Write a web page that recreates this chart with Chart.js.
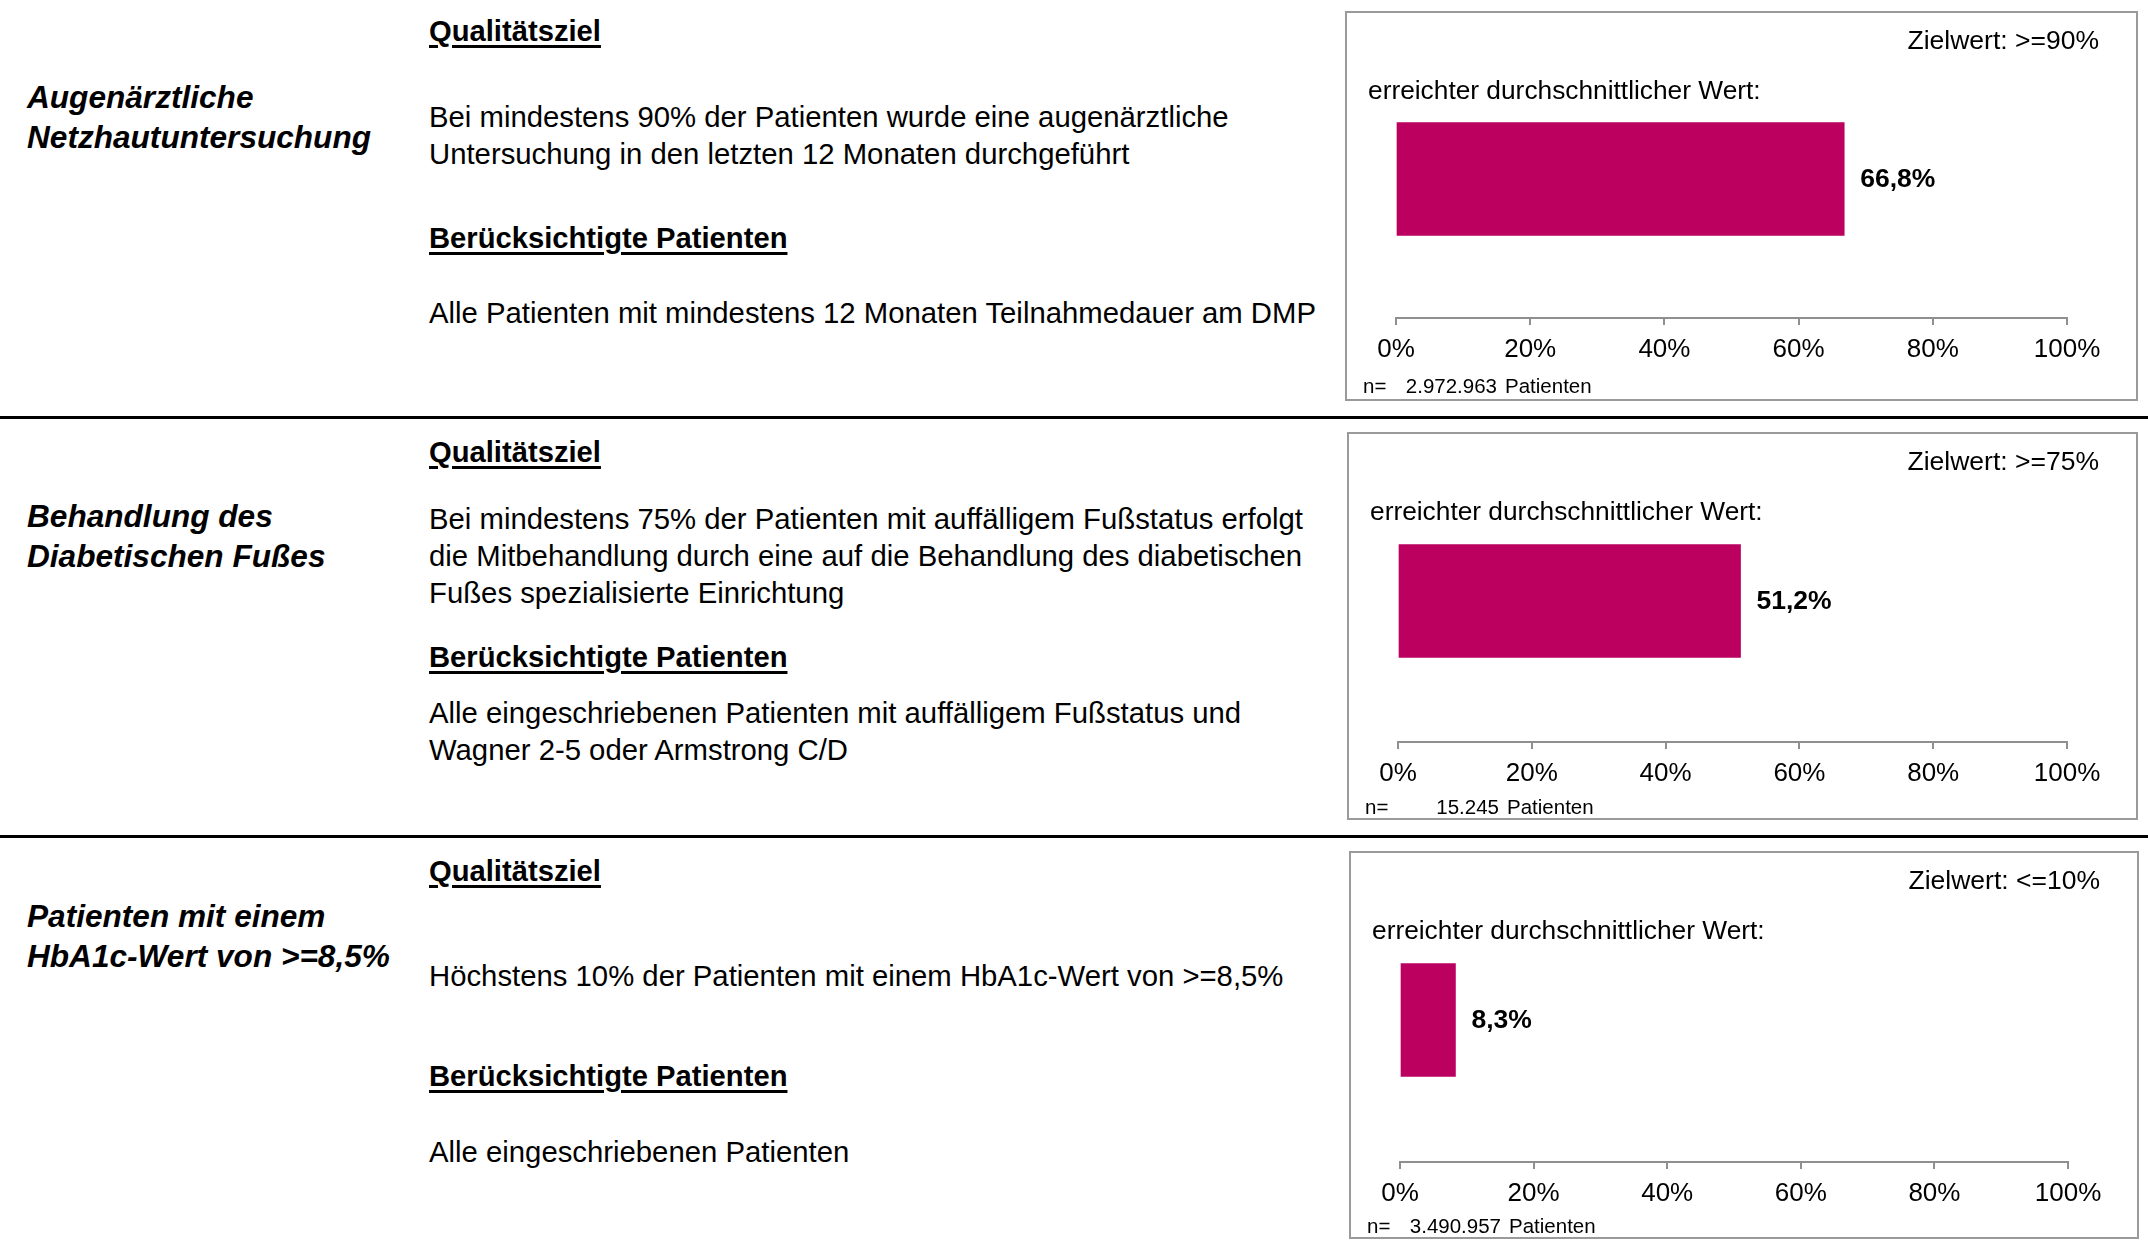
<!DOCTYPE html>
<html lang="de">
<head>
<meta charset="utf-8">
<title>DMP Qualitätsziele</title>
<script src="https://cdn.jsdelivr.net/npm/chart.js@4.4.1/dist/chart.umd.min.js"></script>
<style>
  html, body { margin: 0; padding: 0; background: #fff; }
  body { width: 2148px; height: 1255px; position: relative; overflow: hidden;
         font-family: 'Liberation Sans', Arial, sans-serif; color: #000; }
  .abs { position: absolute; white-space: nowrap; }
  .title { font-size: 31.6px; font-weight: bold; font-style: italic; line-height: 40px; }
  .head { font-size: 29.2px; font-weight: bold; line-height: 36px;
          text-decoration: underline; text-decoration-thickness: 3px; text-underline-offset: 4px; }
  .body { font-size: 29.3px; line-height: 37px; }
  .sep { position: absolute; left: 0; width: 2148px; height: 3px; background: #000; }
  .panel { position: absolute; box-sizing: border-box; border: 2px solid #9a9a9a; background: #fff; }
  .panel .chartBox { position: absolute; left: 0; top: 0; right: 0; bottom: 0; }
  .ziel { font-size: 26.5px; line-height: 30px; right: 37px; top: 12px; }
  .reached { font-size: 26.3px; line-height: 30px; left: 21px; top: 62px; }
  .nrow { font-size: 20.5px; line-height: 24px; top: 361px; }
</style>
</head>
<body>
<div class="sep" style="top:416px"></div>
<div class="sep" style="top:835px"></div>
<script>
// Kennzahlen je Qualitätsziel
const indicatorTitles = [
  ['Augenärztliche', 'Netzhautuntersuchung'],
  ['Behandlung des', 'Diabetischen Fußes'],
  ['Patienten mit einem', 'HbA1c-Wert von >=8,5%']
];
const goalTexts = [
  ['Bei mindestens 90% der Patienten wurde eine augenärztliche', 'Untersuchung in den letzten 12 Monaten durchgeführt'],
  ['Bei mindestens 75% der Patienten mit auffälligem Fußstatus erfolgt', 'die Mitbehandlung durch eine auf die Behandlung des diabetischen', 'Fußes spezialisierte Einrichtung'],
  ['Höchstens 10% der Patienten mit einem HbA1c-Wert von >=8,5%']
];
const patientTexts = [
  ['Alle Patienten mit mindestens 12 Monaten Teilnahmedauer am DMP'],
  ['Alle eingeschriebenen Patienten mit auffälligem Fußstatus und', 'Wagner 2-5 oder Armstrong C/D'],
  ['Alle eingeschriebenen Patienten']
];
const targetLabels = ['>=90%', '>=75%', '<=10%'];
const achievedValues = [66.8, 51.2, 8.3];
const patientCounts = ['2.972.963', '15.245', '3.490.957'];
const axisTicks = [0, 20, 40, 60, 80, 100];

// Layout (Pixel)
const sectionTops = [0, 420, 840];
const titleCenters = [97, 96, 76];
const goalHeadCenters = [31, 32, 31];
const goalBodyCenters = [116, 98, 135];
const patHeadCenters = [238, 237, 236];
const patBodyCenters = [312, 292, 311];
const panelBoxes = [
  { left: 1345, top: 11, width: 793, height: 390, axisY: 305, barY: 166 },
  { left: 1347, top: 432, width: 791, height: 388, axisY: 308, barY: 167 },
  { left: 1349, top: 851, width: 790, height: 388, axisY: 309, barY: 167 }
];

const barColor = '#BB0060';
const axisColor = '#8f8f8f';
Chart.defaults.font.family = "'Liberation Sans', Arial, sans-serif";
Chart.defaults.color = '#000';

function addDiv(parent, cls, html, styles) {
  const d = document.createElement('div');
  d.className = cls;
  d.innerHTML = html;
  Object.assign(d.style, styles || {});
  parent.appendChild(d);
  return d;
}

const valueLabelPlugin = {
  id: 'valueLabel',
  afterDatasetsDraw(chart) {
    const ctx = chart.ctx;
    const meta = chart.getDatasetMeta(0);
    ctx.save();
    ctx.font = "bold 26.5px 'Liberation Sans', Arial, sans-serif";
    ctx.fillStyle = '#000';
    ctx.textAlign = 'left';
    ctx.textBaseline = 'middle';
    meta.data.forEach((bar, i) => {
      const v = chart.data.datasets[0].data[i];
      ctx.fillText(v.toFixed(1).replace('.', ',') + '%', bar.x + 16, bar.y + 1);
    });
    ctx.restore();
  }
};

indicatorTitles.forEach((title, i) => {
  const top = sectionTops[i];
  addDiv(document.body, 'abs title', title.join('<br>'), { left: '27px', top: (top + titleCenters[i] - 20) + 'px' });
  addDiv(document.body, 'abs head', 'Qualitätsziel', { left: '429px', top: (top + goalHeadCenters[i] - 18) + 'px' });
  addDiv(document.body, 'abs body', goalTexts[i].join('<br>'), { left: '429px', top: (top + goalBodyCenters[i] - 18.5) + 'px' });
  addDiv(document.body, 'abs head', 'Berücksichtigte Patienten', { left: '429px', top: (top + patHeadCenters[i] - 18) + 'px' });
  addDiv(document.body, 'abs body', patientTexts[i].join('<br>'), { left: '429px', top: (top + patBodyCenters[i] - 18.5) + 'px' });

  const box = panelBoxes[i];
  const innerH = box.height - 4;
  const panel = addDiv(document.body, 'panel', '', {
    left: box.left + 'px', top: box.top + 'px', width: box.width + 'px', height: box.height + 'px'
  });
  const chartBox = addDiv(panel, 'chartBox', '<canvas></canvas>');
  addDiv(panel, 'abs ziel', 'Zielwert: ' + targetLabels[i]);
  addDiv(panel, 'abs reached', 'erreichter durchschnittlicher Wert:');
  addDiv(panel, 'abs nrow', 'n=', { left: '16px' });
  addDiv(panel, 'abs nrow', patientCounts[i], { left: '30px', width: '120px', textAlign: 'right' });
  addDiv(panel, 'abs nrow', 'Patienten', { left: '158px' });

  new Chart(chartBox.querySelector('canvas').getContext('2d'), {
    type: 'bar',
    data: {
      labels: [''],
      datasets: [{
        data: [achievedValues[i]],
        backgroundColor: barColor,
        borderWidth: 0,
        barThickness: 113
      }]
    },
    options: {
      indexAxis: 'y',
      responsive: true,
      maintainAspectRatio: false,
      animation: false,
      events: [],
      layout: { padding: { left: 49, right: 69, top: 2 * box.barY - box.axisY, bottom: 0 } },
      plugins: { legend: { display: false }, tooltip: { enabled: false } },
      scales: {
        x: {
          min: 0,
          max: 100,
          afterBuildTicks: (scale) => { scale.ticks = axisTicks.map(v => ({ value: v })); },
          afterFit: (scale) => { scale.height = innerH - box.axisY; },
          border: { display: true, color: axisColor, width: 2 },
          grid: { display: true, drawOnChartArea: false, drawTicks: true, tickLength: 7, color: axisColor, lineWidth: 2 },
          ticks: {
            padding: 9,
            maxRotation: 0,
            autoSkip: false,
            font: { size: 26 },
            color: '#000',
            callback: (v) => v + '%'
          }
        },
        y: { display: false }
      }
    },
    plugins: [valueLabelPlugin]
  });
});
</script>
</body>
</html>
